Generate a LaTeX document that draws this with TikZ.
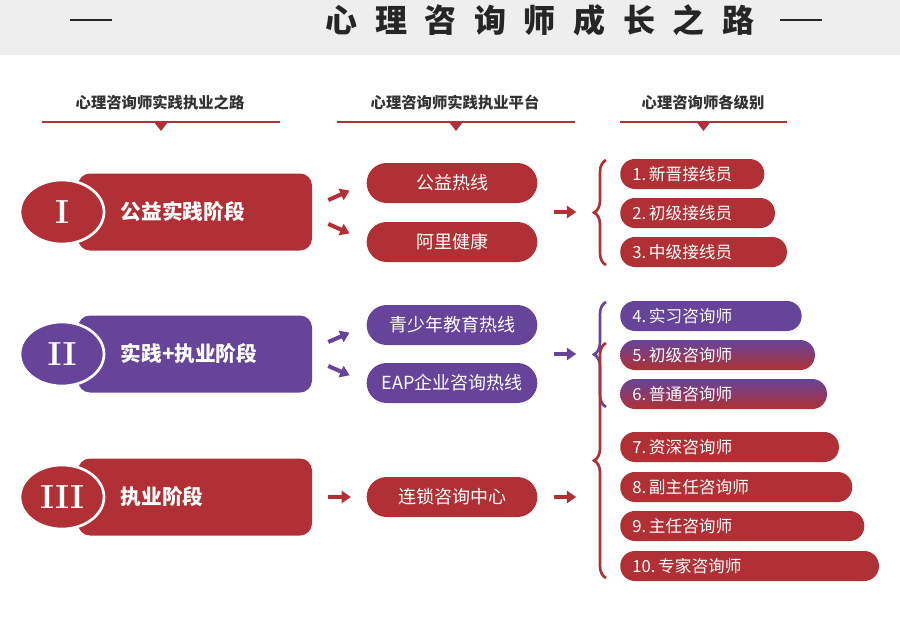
\documentclass[tikz,border=0pt]{standalone}
\usepackage{fontspec}
\newfontfamily\cjk{Noto Sans CJK SC}
\newfontfamily\cjktitle[LetterSpace=55]{Noto Sans CJK SC}
\usetikzlibrary{arrows.meta,decorations.pathreplacing,shapes.geometric}
\definecolor{darkred}{HTML}{B03035}
\definecolor{violet}{HTML}{66449A}
\definecolor{band}{HTML}{EEEEEE}
\tikzset{
  stagebox/.style={rectangle, rounded corners=9pt, minimum width=175.5pt, minimum height=57.75pt},
  numeral/.style={ellipse, draw=white, line width=2pt, minimum width=63pt, minimum height=48pt, text=white, font=\fontsize{25}{25}\selectfont\bfseries},
  stagetext/.style={anchor=west, text=white, font=\cjk\fontsize{15.5}{15.5}\selectfont\bfseries},
  platform/.style={rectangle, rounded corners=15pt, minimum width=128pt, minimum height=30pt, text=white, font=\cjk\fontsize{13.5}{13.5}\selectfont},
  level/.style={rectangle, rounded corners=11pt, anchor=west, minimum height=22.5pt, inner xsep=9pt, align=left, text=white, font=\cjk\fontsize{12.5}{12.5}\selectfont},
  header/.style={text=black!80, font=\cjk\fontsize{11.5}{11.5}\selectfont\bfseries},
  hline/.style={darkred, line width=1.5pt},
  step arrow/.style={-{Triangle[length=7pt,width=9pt]}, line width=3pt},
  bracket/.style={decorate, decoration={brace, amplitude=9pt, aspect=0.5}, line width=2pt}
}
\begin{document}
\begin{tikzpicture}[x=0.75pt, y=-0.75pt]
  \useasboundingbox (0,0) rectangle (900,617);
  % title band
  \fill[band] (0,0) rectangle (900,55);
  \node[font=\cjktitle\fontsize{24}{24}\selectfont\bfseries, text=black!85] (title) at (540,20) {心理咨询师成长之路};
  \draw[line width=2pt, black!85] (70,20) -- (112,20);
  \draw[line width=2pt, black!85] (780,20) -- (822,20);

  % column headers
  \node[header] (h1) at (160,103) {心理咨询师实践执业之路};
  \node[header] (h2) at (455,103) {心理咨询师实践执业平台};
  \node[header] (h3) at (703,103) {心理咨询师各级别};
  \foreach \a/\b in {42/280, 337/575, 620/787} {
    \draw[hline] (\a,122) -- (\b,122);
    \fill[darkred] ({(\a+\b)/2-7},122) -- ({(\a+\b)/2+7},122) -- ({(\a+\b)/2},131) -- cycle;
  }

  % stages
  \node[stagebox, fill=darkred] (s1) at (195,212) {};
  \node[stagebox, fill=violet] (s2) at (195,354) {};
  \node[stagebox, fill=darkred] (s3) at (195,497) {};
  \node[numeral, fill=darkred] (n1) at (62,212) {I};
  \node[numeral, fill=violet] (n2) at (62,354) {II};
  \node[numeral, fill=darkred] (n3) at (62,497) {III};
  \node[stagetext] (t1) at (116,212) {公益实践阶段};
  \node[stagetext] (t2) at (116,354) {实践+执业阶段};
  \node[stagetext] (t3) at (116,497) {执业阶段};

  % platforms
  \node[platform, fill=darkred] (p1) at (452,183) {公益热线};
  \node[platform, fill=darkred] (p2) at (452,242) {阿里健康};
  \node[platform, fill=violet] (p3) at (452,325) {青少年教育热线};
  \node[platform, fill=violet] (p4) at (452,383) {EAP企业咨询热线};
  \node[platform, fill=darkred] (p5) at (452,497) {连锁咨询中心};

  \draw[step arrow, darkred] (s1.east) ++(12pt,-9pt) -- ++(16pt,-7pt);
  \draw[step arrow, darkred] (s1.east) ++(12pt,9pt) -- ++(16pt,7pt);
  \draw[step arrow, violet] (s2.east) ++(12pt,-9pt) -- ++(16pt,-7pt);
  \draw[step arrow, violet] (s2.east) ++(12pt,9pt) -- ++(16pt,7pt);
  \draw[step arrow, darkred] (s3.east) ++(12pt,0) -- ++(17pt,0);

  % levels
  \node[level, fill=darkred, text width=90pt] (l1) at (620,174) {1.\,新晋接线员};
  \node[level, fill=darkred, text width=98pt] (l2) at (620,213) {2.\,初级接线员};
  \node[level, fill=darkred, text width=107pt] (l3) at (620,252) {3.\,中级接线员};
  \node[level, fill=violet, text width=118pt] (l4) at (620,316) {4.\,实习咨询师};
  \node[level, top color=violet, bottom color=darkred, text width=128pt] (l5) at (620,355) {5.\,初级咨询师};
  \node[level, top color=violet, bottom color=darkred, text width=137pt] (l6) at (620,394) {6.\,普通咨询师};
  \node[level, fill=darkred, text width=146pt] (l7) at (620,447) {7.\,资深咨询师};
  \node[level, fill=darkred, text width=156pt] (l8) at (620,487) {8.\,副主任咨询师};
  \node[level, fill=darkred, text width=165pt] (l9) at (620,526) {9.\,主任咨询师};
  \node[level, fill=darkred, text width=176pt] (l10) at (620,566) {10.\,专家咨询师};

  % braces
  \coordinate (b1) at (585,212);
  \coordinate (b2) at (585,354);
  \draw[bracket, darkred] (606,265) -- (606,160);
  \draw[bracket, violet] (606,407) -- (606,302);
  \draw[bracket, darkred] (606,578) -- (606,343);
  \draw[step arrow, darkred] (p1.east |- b1) ++(12pt,0) -- ++(17pt,0);
  \draw[step arrow, violet] (p4.east |- b2) ++(12pt,0) -- ++(17pt,0);
  \draw[step arrow, darkred] (p5.east) ++(12pt,0) -- ++(17pt,0);
\end{tikzpicture}
\end{document}
